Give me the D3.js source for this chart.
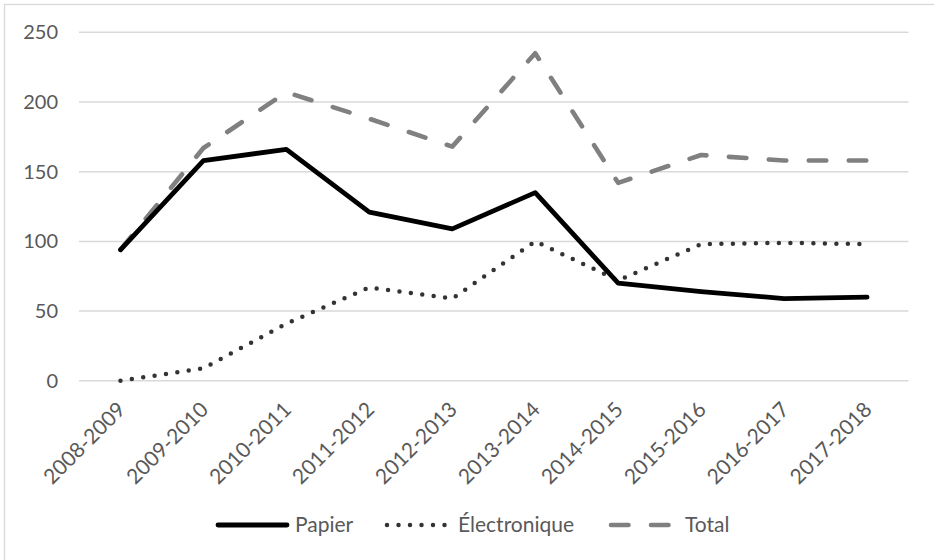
<!DOCTYPE html>
<html>
<head>
<meta charset="utf-8">
<script src="https://cdn.jsdelivr.net/npm/d3@7"></script>
<style>
  body { margin: 0; background: #fff; }
  svg { display: block; font-family: Lato, "Open Sans", sans-serif; }
  .grid line { stroke: #d9d9d9; stroke-width: 1.5; }
  .tick-label { fill: #595959; font-size: 20px; }
  .x-label, .legend-label { fill: #595959; font-size: 21px; }
</style>
</head>
<body>
<div id="chart"></div>
<script>
// values
const years = [`2008-2009`, `2009-2010`, `2010-2011`, `2011-2012`, `2012-2013`,
  `2013-2014`, `2014-2015`, `2015-2016`, `2016-2017`, `2017-2018`];
const papier = [94, 158, 166, 121, 109, 135, 70, 64, 59, 60];
const electronique = [0, 9, 41, 67, 59, 100, 72, 98, 99, 98];
const total = [94, 167, 207, 188, 168, 235, 142, 162, 158, 158];
const yTicks = [0, 50, 100, 150, 200, 250];

const width = 934;
const height = 560;
const margin = { top: 32.3, right: 25.5, bottom: 179.2, left: 79 };

const svg = d3.select(`#chart`).append(`svg`)
  .attr(`width`, width)
  .attr(`height`, height);

// chart frame (right and bottom edges fall outside the picture)
svg.append(`rect`)
  .attr(`x`, 4.5).attr(`y`, 4.5)
  .attr(`width`, width + 20).attr(`height`, height + 20)
  .attr(`fill`, `none`)
  .attr(`stroke`, `#d9d9d9`)
  .attr(`stroke-width`, 1.3);

const x = d3.scalePoint()
  .domain(years)
  .range([margin.left, width - margin.right])
  .padding(0.5);

const y = d3.scaleLinear()
  .domain([0, 250])
  .range([height - margin.bottom, margin.top]);

// gridlines
svg.append(`g`).attr(`class`, `grid`)
  .selectAll(`line`)
  .data(yTicks)
  .join(`line`)
    .attr(`x1`, margin.left)
    .attr(`x2`, width - margin.right)
    .attr(`y1`, (d) => y(d))
    .attr(`y2`, (d) => y(d));

// y labels
svg.append(`g`)
  .selectAll(`text`)
  .data(yTicks)
  .join(`text`)
    .attr(`class`, `tick-label`)
    .attr(`x`, 58)
    .attr(`y`, (d) => y(d))
    .attr(`dy`, `0.35em`)
    .attr(`text-anchor`, `end`)
    .text((d) => d);

// x labels, rotated
svg.append(`g`)
  .selectAll(`text`)
  .data(years)
  .join(`text`)
    .attr(`class`, `x-label`)
    .attr(`transform`, (d) => `translate(${x(d) + 1},${y(0) + 25}) rotate(-45)`)
    .attr(`dy`, `0.35em`)
    .attr(`text-anchor`, `end`)
    .text((d) => d);

const series = [
  { name: `Papier`, values: papier, color: `#000`, width: 4.8, dash: null, legendX: 218, textX: 295, len: 69 },
  { name: `Électronique`, values: electronique, color: `#333`, width: 4.5, dash: `0,11.5`, legendX: 387, textX: 458, len: 60 },
  { name: `Total`, values: total, color: `#808080`, width: 4.6, dash: `17.5,22.5`, legendX: 611, textX: 685, len: 59 }
];

const line = d3.line()
  .x((d, i) => x(years[i]))
  .y((d) => y(d));

// draw Total first so solid/dotted lines sit on top
[series[2], series[1], series[0]].forEach((s) => {
  svg.append(`path`)
    .datum(s.values)
    .attr(`d`, line)
    .attr(`fill`, `none`)
    .attr(`stroke`, s.color)
    .attr(`stroke-width`, s.width)
    .attr(`stroke-linejoin`, `round`)
    .attr(`stroke-linecap`, `round`)
    .attr(`stroke-dasharray`, s.dash);
});

// legend
const legendY = 525;
const legend = svg.append(`g`);
series.forEach((s) => {
  legend.append(`line`)
    .attr(`x1`, s.legendX)
    .attr(`x2`, s.legendX + s.len)
    .attr(`y1`, legendY)
    .attr(`y2`, legendY)
    .attr(`stroke`, s.color)
    .attr(`stroke-width`, s.width)
    .attr(`stroke-linecap`, `round`)
    .attr(`stroke-dasharray`, s.dash);
  legend.append(`text`)
    .attr(`class`, `legend-label`)
    .attr(`x`, s.textX)
    .attr(`y`, legendY)
    .attr(`dy`, `0.35em`)
    .text(s.name);
});
</script>
</body>
</html>
